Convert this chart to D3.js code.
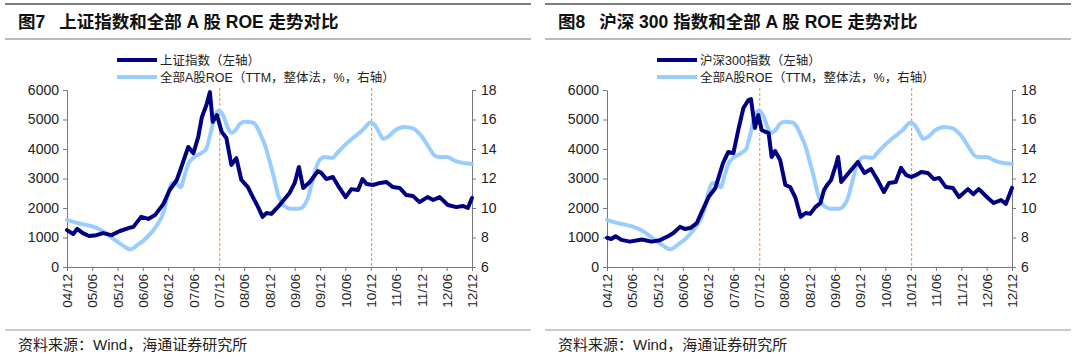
<!DOCTYPE html>
<html>
<head>
<meta charset="utf-8">
<script src="https://cdn.jsdelivr.net/npm/d3@7"></script>
<style>
  body { margin: 0; background: #fff; }
  svg { display: block; font-family: "Liberation Sans", Arial, "Noto Sans CJK SC", sans-serif; }
</style>
</head>
<body>
<svg width="1080" height="359"></svg>
<script>
// Shanghai Composite (left axis)
var sseDates = ["2004-12-01","2005-01-15","2005-02-12","2005-03-25","2005-05-10","2005-07-01","2005-08-18","2005-10-18","2005-12-18","2006-02-18","2006-03-25","2006-05-20","2006-07-10","2006-08-28","2006-10-28","2006-12-12","2007-02-01","2007-03-06","2007-04-25","2007-06-01","2007-07-06","2007-08-01","2007-09-03","2007-09-28","2007-10-18","2007-11-18","2007-12-22","2008-01-25","2008-03-01","2008-04-06","2008-05-12","2008-06-28","2008-08-03","2008-09-10","2008-10-12","2008-11-10","2008-12-15","2009-02-12","2009-04-25","2009-06-01","2009-07-01","2009-08-01","2009-09-18","2009-11-15","2009-12-10","2010-01-15","2010-03-03","2010-04-20","2010-06-03","2010-07-15","2010-09-01","2010-10-03","2010-11-03","2010-12-18","2011-02-06","2011-03-25","2011-05-10","2011-06-28","2011-08-15","2011-10-01","2011-11-18","2012-01-15","2012-02-25","2012-04-12","2012-06-10","2012-08-10","2012-09-25","2012-11-01","2012-12-01"];
var sseValues = [1250,1120,1290,1150,1050,1080,1150,1080,1220,1320,1360,1700,1630,1760,2140,2610,2950,3390,4070,3860,4410,5080,5490,5930,4920,5150,4580,4370,3460,3690,2950,2710,2370,2030,1700,1830,1800,2100,2510,2850,3390,2680,2880,3250,3190,2980,3050,2680,2370,2640,2610,2980,2810,2780,2850,2880,2710,2680,2440,2410,2200,2370,2270,2370,2100,2030,2070,2000,2340];

// CSI 300 (left axis)
var csiDates = ["2004-12-01","2005-01-01","2005-02-01","2005-03-15","2005-05-15","2005-08-10","2005-10-18","2005-12-18","2006-02-18","2006-03-25","2006-05-12","2006-06-15","2006-07-25","2006-09-10","2006-10-15","2006-12-05","2007-01-22","2007-03-18","2007-04-25","2007-06-01","2007-07-06","2007-08-12","2007-09-18","2007-10-06","2007-11-03","2007-11-28","2007-12-22","2008-02-10","2008-03-03","2008-03-28","2008-05-03","2008-06-10","2008-07-15","2008-08-22","2008-09-28","2008-11-03","2008-12-06","2009-01-12","2009-02-18","2009-03-15","2009-04-10","2009-05-06","2009-06-12","2009-06-25","2009-07-18","2009-09-15","2009-11-15","2009-12-06","2010-01-01","2010-02-18","2010-04-06","2010-05-22","2010-06-28","2010-08-15","2010-09-22","2010-10-28","2010-12-03","2011-01-10","2011-02-15","2011-04-03","2011-05-18","2011-06-25","2011-08-12","2011-10-01","2011-11-15","2012-01-18","2012-02-25","2012-04-06","2012-06-10","2012-07-22","2012-09-12","2012-10-18","2012-12-01"];
var csiValues = [990,950,1040,920,860,930,860,910,1050,1150,1360,1290,1320,1490,1860,2380,2680,3520,3900,3860,4640,5390,5660,5690,4710,5150,4640,4540,3730,3930,3630,2780,2710,2340,1700,1830,1800,2030,2170,2600,2800,2950,3500,3730,2880,3220,3560,3390,3190,3320,2950,2540,2850,2880,3360,3120,3050,3120,3220,3190,2980,3020,2710,2680,2370,2640,2470,2640,2340,2170,2270,2140,2680];

// all A-share ROE (TTM, right axis)
var roeDates = ["2004-12","2005-03","2005-06","2005-09","2005-11","2006-01","2006-03","2006-05","2006-07","2006-09","2006-11","2006-12","2007-01","2007-02","2007-03","2007-04","2007-05","2007-06","2007-08","2007-09","2007-10","2007-11","2007-12","2008-01","2008-02","2008-03","2008-04","2008-05","2008-06","2008-08","2008-09","2008-10","2008-11","2008-12","2009-01","2009-02","2009-03","2009-04","2009-05","2009-07","2009-08","2009-09","2009-10","2009-11","2009-12","2010-01","2010-03","2010-04","2010-06","2010-08","2010-10","2010-12","2011-01","2011-02","2011-03","2011-04","2011-06","2011-08","2011-10","2011-12","2012-02","2012-03","2012-04","2012-06","2012-08","2012-10","2012-12"];
var roeValues = [9.2,8.95,8.75,8.35,7.9,7.5,7.2,7.55,8.0,8.7,9.8,11.0,11.7,11.65,11.4,12.3,13.1,13.4,13.75,14.0,15.0,16.2,16.6,16.3,15.5,15.1,15.3,15.7,15.85,15.8,15.5,14.9,14.2,13.2,12.1,10.9,10.3,10.05,9.95,9.95,10.1,10.6,11.6,12.7,13.3,13.45,13.4,13.7,14.3,14.8,15.25,15.8,15.6,15.1,14.7,14.8,15.3,15.5,15.4,14.9,14.0,13.6,13.45,13.45,13.2,13.05,13.0];

var xTickLabels = ["04/12","05/06","05/12","06/06","06/12","07/06","07/12","08/06","08/12","09/06","09/12","10/06","10/12","11/06","11/12","12/06","12/12"];
var leftTicks = [0,1000,2000,3000,4000,5000,6000];
var rightTicks = [6,8,10,12,14,16,18];
var markDates = ["07/12","10/12"];

var parseDay = d3.timeParse("%Y-%m-%d");
var parseMonth = d3.timeParse("%Y-%m");
var parseTick = d3.timeParse("%y/%m");
var fmtTick = d3.timeFormat("%y/%m");

var svg = d3.select("svg");
var cjk = "'Liberation Sans', 'Noto Sans CJK SC', sans-serif";

function drawPanel(px, num, titleText, idxName, idxDates, idxValues) {
    var left = px + 67, right = px + 472, top = 90, bottom = 267;
    var x = d3.scaleTime()
        .domain([parseTick(xTickLabels[0]), parseTick(xTickLabels[xTickLabels.length - 1])])
        .range([left, right]);
    var y = d3.scaleLinear().domain([0, 6000]).range([bottom, top]);
    var y2 = d3.scaleLinear().domain([6, 18]).range([bottom, top]);

    // frame lines
    svg.append("line").attr("x1", px + 5).attr("x2", px + 531).attr("y1", 4).attr("y2", 4)
        .attr("stroke", "#555").attr("stroke-width", 1.5);
    svg.append("line").attr("x1", px + 5).attr("x2", px + 531).attr("y1", 39).attr("y2", 39)
        .attr("stroke", "#777").attr("stroke-width", 1);
    svg.append("line").attr("x1", px + 5).attr("x2", px + 531).attr("y1", 330).attr("y2", 330)
        .attr("stroke", "#999").attr("stroke-width", 1.2);

    var t = svg.append("text").attr("x", px + 18).attr("y", 28)
        .attr("font-size", 17.5).attr("font-weight", "bold").attr("fill", "#111")
        .style("font-family", cjk);
    t.append("tspan").text("图" + num);
    t.append("tspan").attr("dx", 14).text(titleText);

    svg.append("text").attr("x", px + 18).attr("y", 350)
        .attr("font-size", 15).attr("fill", "#222")
        .style("font-family", cjk)
        .text("资料来源：Wind，海通证券研究所");

    // legend
    var lx = px + 117;
    svg.append("line").attr("x1", lx).attr("x2", lx + 40).attr("y1", 60).attr("y2", 60)
        .attr("stroke", "#000080").attr("stroke-width", 4);
    svg.append("text").attr("x", lx + 43).attr("y", 64.5).attr("font-size", 12.5).attr("fill", "#222")
        .style("font-family", cjk)
        .text(idxName + "（左轴）");
    svg.append("line").attr("x1", lx).attr("x2", lx + 40).attr("y1", 77).attr("y2", 77)
        .attr("stroke", "#99ccff").attr("stroke-width", 4);
    svg.append("text").attr("x", lx + 43).attr("y", 81.5).attr("font-size", 12.5).attr("fill", "#222")
        .style("font-family", cjk)
        .text("全部A股ROE（TTM，整体法，%，右轴）");

    // axes
    var gl = svg.append("g").attr("transform", "translate(" + left + ",0)")
        .call(d3.axisLeft(y).tickValues(leftTicks).tickFormat(d3.format("d"))
            .tickSize(4).tickSizeOuter(0).tickPadding(4));
    var gr = svg.append("g").attr("transform", "translate(" + right + ",0)")
        .call(d3.axisRight(y2).tickValues(rightTicks).tickFormat(d3.format("d"))
            .tickSize(4).tickSizeOuter(0).tickPadding(5));
    var gx = svg.append("g").attr("transform", "translate(0," + bottom + ")")
        .call(d3.axisBottom(x).tickValues(xTickLabels.map(parseTick)).tickFormat(fmtTick)
            .tickSize(4).tickSizeOuter(0));
    gx.selectAll("text")
        .attr("transform", "rotate(-90)")
        .attr("text-anchor", "end")
        .attr("x", -7).attr("y", 0).attr("dy", "0.35em")
        .attr("font-size", 13.5);
    [gl, gr, gx].forEach(function(g) {
        g.select(".domain").attr("stroke", "#777");
        g.selectAll(".tick line").attr("stroke", "#777");
        g.selectAll("text").attr("fill", "#222").style("font-family", "'Liberation Sans', Arial, sans-serif");
    });
    gl.selectAll("text").attr("font-size", 14);
    gr.selectAll("text").attr("font-size", 14);

    // marker lines
    markDates.forEach(function(d) {
        var xx = x(parseTick(d)) + 1;
        svg.append("line").attr("x1", xx).attr("x2", xx).attr("y1", top - 2).attr("y2", bottom)
            .attr("stroke", "#f5873c").attr("stroke-width", 1).attr("stroke-dasharray", "3,2");
    });

    var roeData = roeDates.map(function(d, i) { return {date: parseMonth(d), value: roeValues[i]}; });
    var idxData = idxDates.map(function(d, i) { return {date: parseDay(d), value: idxValues[i]}; });

    var roeLine = d3.line().curve(d3.curveMonotoneX)
        .x(function(d) { return x(d.date); })
        .y(function(d) { return y2(d.value); });
    var idxLine = d3.line()
        .x(function(d) { return x(d.date); })
        .y(function(d) { return y(d.value); });

    svg.append("path").datum(roeData)
        .attr("fill", "none").attr("stroke", "#99ccff").attr("stroke-width", 4)
        .attr("stroke-linejoin", "round").attr("stroke-linecap", "round")
        .attr("d", roeLine);
    svg.append("path").datum(idxData)
        .attr("fill", "none").attr("stroke", "#000080").attr("stroke-width", 4)
        .attr("stroke-linejoin", "round").attr("stroke-linecap", "round")
        .attr("d", idxLine);
}

drawPanel(0, 7, "上证指数和全部 A 股 ROE 走势对比", "上证指数", sseDates, sseValues);
drawPanel(540, 8, "沪深 300 指数和全部 A 股 ROE 走势对比", "沪深300指数", csiDates, csiValues);
</script>
</body>
</html>
